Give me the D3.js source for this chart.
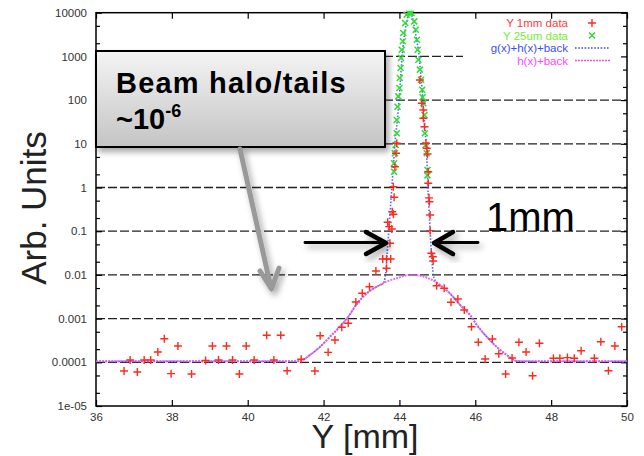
<!DOCTYPE html>
<html><head><meta charset="utf-8">
<script src="https://cdn.jsdelivr.net/npm/d3@7"></script>
<style>
html,body{margin:0;padding:0;background:#fff;}
svg{display:block;font-family:"Liberation Sans",Arial,sans-serif;}
</style></head>
<body>
<svg id="chart" width="644" height="456"></svg>
<script>
// ---------- data ----------
const xTicks = [36,38,40,42,44,46,48,50];
const yTicks = [1e-5,1e-4,1e-3,1e-2,1e-1,1,10,100,1000,10000];
const yTickLabels = ["1e-05","0.0001","0.001","0.01","0.1","1","10","100","1000","10000"];
const gridValues = [1e-4,1e-3,1e-2,1e-1,1,10,100,1000];
const legendLabels = ["Y 1mm data","Y 25um data","g(x)+h(x)+back","h(x)+back"];

const y1mmData = [
[36.74,6.3e-5],[36.90,1.13e-4],[37.09,6.0e-5],[37.27,1.13e-4],[37.44,1.13e-4],[37.63,1.72e-4],[37.80,3.47e-4],[37.98,5.5e-5],[38.16,2.36e-4],[38.52,5.4e-5],[38.89,1.1e-4],[39.07,2.36e-4],[39.23,1.13e-4],[39.44,2.36e-4],[39.60,1.13e-4],[39.78,5.4e-5],[39.96,2.36e-4],[40.17,1.13e-4],[40.50,4.15e-4],[40.69,1.13e-4],[40.87,4.15e-4],[41.04,6.4e-5],[41.41,1.17e-4],[41.77,6.3e-5],[41.91,4.06e-4],[42.12,1.69e-4],[42.30,3.24e-4],[42.48,6.32e-4],[42.65,7.8e-4],[42.85,2.40e-3],[43.02,3.79e-3],[43.21,5.37e-3],[43.38,1.23e-2],[43.56,2.31e-2],[43.66,2.31e-2],[43.77,2.31e-2],[43.66,1.42e-2],[43.75,0.0528],[43.73,0.127],[43.80,0.112],[43.69,0.160],[43.81,0.279],[43.84,0.244],[43.86,0.597],[43.84,1.04],[43.88,2.99],[43.91,6.06],[43.93,10.3],
[44.54,288],[44.59,84.5],[44.63,59.3],[44.63,38.3],[44.66,24.6],[44.70,10.3],[44.72,7.9],[44.74,5.84],[44.76,2.30],[44.76,1.25],[44.78,0.58],[44.79,0.473],[44.81,0.235],[44.81,0.103],[44.84,0.0312],[44.88,0.0261],[44.89,0.0208],[44.98,5.66e-3],[45.18,4.93e-3],[45.36,2.36e-3],[45.54,2.81e-3],[45.71,1.57e-3],[45.90,6.53e-4],[46.08,2.88e-4],[46.26,1.19e-4],[46.45,3.41e-4],[46.62,1.57e-4],[46.80,5.4e-5],[46.97,1.25e-4],[47.15,2.88e-4],[47.34,1.72e-4],[47.51,4.93e-5],[47.69,2.72e-4],[48.06,1.24e-4],[48.23,1.24e-4],[48.43,1.28e-4],[48.61,1.24e-4],[48.79,1.84e-4],[49.14,1.24e-4],[49.31,2.96e-4],[49.51,6.4e-5],[49.68,2.36e-4],[49.86,6.53e-4]
];

const y25umData = [
[44.24,10000],[44.28,10000],[44.19,9000],[44.15,5800],[44.10,3430],[44.09,2220],[44.06,1420],[44.04,918],[44.03,543],[44.01,321],[44.00,189],[43.97,122],[43.95,70.6],[43.93,35.1],[43.93,17.4],[43.90,9.4],[43.88,6.07],[43.86,3.58],[43.86,2.30],
[44.32,9840],[44.39,6350],[44.43,4080],[44.46,2410],[44.48,1420],[44.50,840],[44.54,497],[44.57,293],[44.60,173],[44.61,116],[44.63,84.5],[44.66,45.6],[44.67,17.4],[44.69,9.4],[44.72,6.07],[44.74,2.51],[44.74,1.89]
];

const fitTotal = [
[36,1.05e-4],[41.2,1.05e-4],[41.38,1.07e-4],[41.64,1.47e-4],[41.91,2.27e-4],[42.17,3.86e-4],[42.43,6.53e-4],[42.65,1.10e-3],[42.87,2.12e-3],[43.14,3.79e-3],[43.40,5.37e-3],[43.58,6.6e-3],[43.62,8.5e-3],[43.65,0.014],[43.68,0.035],[43.72,0.1],[43.76,0.32],[43.80,1],[43.84,3.2],[43.88,10],[43.94,32],[43.99,100],[44.03,320],[44.07,1000],[44.12,2500],[44.18,5500],[44.23,8500],[44.28,10000],[44.33,8500],[44.38,5500],[44.45,2500],[44.52,1000],[44.57,320],[44.62,100],[44.66,32],[44.70,10],[44.73,3.2],[44.75,1],[44.78,0.32],[44.81,0.1],[44.84,0.035],[44.87,0.016],[44.90,0.0095],[44.95,7.3e-3],[45.07,5.87e-3],[45.33,3.79e-3],[45.60,2.05e-3],[45.86,1.21e-3],[46.04,7.14e-4],[46.30,3.86e-4],[46.56,2.27e-4],[46.83,1.47e-4],[47.09,1.07e-4],[47.3,1.05e-4],[50,1.05e-4]
];

const fitHalo = [
[36,1.05e-4],[41.2,1.05e-4],[41.38,1.07e-4],[41.64,1.47e-4],[41.91,2.27e-4],[42.17,3.86e-4],[42.43,6.53e-4],[42.65,1.10e-3],[42.87,2.12e-3],[43.14,3.79e-3],[43.40,5.37e-3],[43.66,6.99e-3],[43.93,8.36e-3],[44.28,1.0e-2],[44.54,9.6e-3],[44.81,8.05e-3],[45.07,5.87e-3],[45.33,3.79e-3],[45.60,2.05e-3],[45.86,1.21e-3],[46.04,7.14e-4],[46.30,3.86e-4],[46.56,2.27e-4],[46.83,1.47e-4],[47.09,1.07e-4],[47.3,1.05e-4],[50,1.05e-4]
];

// ---------- layout ----------
const L = 96, R = 627, T = 12.7, B = 406;
const svg = d3.select("#chart");
const x = d3.scaleLinear().domain([36,50]).range([L,R]);
const y = d3.scaleLog().domain([1e-5,1e4]).range([B,T]);

const COL = {red:"#ff2a1a", green:"#33dd33", blue:"#3a4cff", mag:"#e455ee"};

const defs = svg.append("defs");
defs.append("clipPath").attr("id","clip").append("rect")
  .attr("x",L).attr("y",T-2).attr("width",R-L).attr("height",B-T+2);
const grad = defs.append("linearGradient").attr("id","boxg").attr("x1",0).attr("y1",0).attr("x2",0).attr("y2",1);
grad.append("stop").attr("offset","0%").attr("stop-color","#f4f4f4");
grad.append("stop").attr("offset","100%").attr("stop-color","#c4c4c4");
const sh = defs.append("filter").attr("id","shadow").attr("x","-20%").attr("y","-20%").attr("width","150%").attr("height","160%");
sh.append("feDropShadow").attr("dx",3).attr("dy",4).attr("stdDeviation",3).attr("flood-color","#000").attr("flood-opacity",0.35);
const glow = defs.append("filter").attr("id","glow");
glow.append("feGaussianBlur").attr("stdDeviation",0.5);

// grid
svg.append("g").selectAll("line").data(gridValues).join("line")
  .attr("x1",L).attr("x2",R).attr("y1",d=>y(d)).attr("y2",d=>y(d))
  .attr("stroke","#222").attr("stroke-width",1.3).attr("stroke-dasharray","9,3");

// legend background (gnuplot key clears grid)
svg.append("rect").attr("x",463).attr("y",T+1).attr("width",R-463-1).attr("height",55).attr("fill","#fff");

// axes
function styleAxis(g){
  g.select(".domain").remove();
  g.selectAll(".tick line").attr("stroke","#000").attr("stroke-width",1.2);
  g.selectAll(".tick text").attr("fill","#333").style("font-size","11.5px")
    .style("font-family","'Liberation Sans',Arial,sans-serif");
}
const minorTicks = [];
for (let e=-5; e<4; e++){ minorTicks.push(2*Math.pow(10,e)); minorTicks.push(5*Math.pow(10,e)); }

svg.append("g").attr("transform",`translate(0,${B})`)
  .call(d3.axisBottom(x).tickValues(xTicks).tickSize(-6).tickPadding(7).tickFormat(d3.format("d")))
  .call(styleAxis);
svg.append("g").attr("transform",`translate(0,${T})`)
  .call(d3.axisTop(x).tickValues(xTicks).tickSize(-6).tickFormat(""))
  .call(styleAxis);
svg.append("g").attr("transform",`translate(${L},0)`)
  .call(d3.axisLeft(y).tickValues(yTicks).tickSize(-6).tickPadding(9).tickFormat((d,i)=>yTickLabels[i]))
  .call(styleAxis);
svg.append("g").attr("transform",`translate(${L},0)`)
  .call(d3.axisLeft(y).tickValues(minorTicks).tickSize(-4).tickFormat(""))
  .call(styleAxis);
svg.append("g").attr("transform",`translate(${R},0)`)
  .call(d3.axisRight(y).tickValues(yTicks).tickSize(-6).tickFormat(""))
  .call(styleAxis);
svg.append("g").attr("transform",`translate(${R},0)`)
  .call(d3.axisRight(y).tickValues(minorTicks).tickSize(-4).tickFormat(""))
  .call(styleAxis);

// frame
svg.append("rect").attr("x",L).attr("y",T).attr("width",R-L).attr("height",B-T)
  .attr("fill","none").attr("stroke","#000").attr("stroke-width",1.5);

// plot layer
const plot = svg.append("g").attr("clip-path","url(#clip)");
const line = d3.line().x(d=>x(d[0])).y(d=>y(d[1])).curve(d3.curveMonotoneX);

plot.append("path").datum(fitTotal).attr("d",line).attr("fill","none")
  .attr("stroke",COL.blue).attr("stroke-width",1.6).attr("stroke-dasharray","1.6,1.6").attr("opacity",0.85);

// green x
plot.append("g").attr("filter","url(#glow)").selectAll("path").data(y25umData).join("path")
  .attr("d",d=>{const cx=x(d[0]),cy=y(d[1]),s=3;return `M${cx-s},${cy-s}L${cx+s},${cy+s}M${cx-s},${cy+s}L${cx+s},${cy-s}`;})
  .attr("stroke",COL.green).attr("stroke-width",1.6).attr("fill","none");

plot.append("path").datum(fitHalo).attr("d",line).attr("fill","none")
  .attr("stroke",COL.mag).attr("stroke-width",2).attr("stroke-dasharray","2,1").attr("opacity",0.85);

// red +
plot.append("g").selectAll("path").data(y1mmData).join("path")
  .attr("d",d=>{const cx=x(d[0]),cy=y(d[1]),s=4;return `M${cx-s},${cy}L${cx+s},${cy}M${cx},${cy-s}L${cx},${cy+s}`;})
  .attr("stroke",COL.red).attr("stroke-width",1.4).attr("fill","none");

// legend
const legColors = ["#ff3a3a","#77ee33","#3a4cff","#ff44ff"];
const legY = [23,35.5,48,60.5];
const leg = svg.append("g");
leg.selectAll("text").data(legendLabels).join("text")
  .attr("x",568).attr("y",(d,i)=>legY[i]+4).attr("text-anchor","end")
  .attr("fill",(d,i)=>legColors[i]).style("font-size","11.5px").text(d=>d);
leg.append("path").attr("d",`M588,${legY[0]}L596,${legY[0]}M592,${legY[0]-4}L592,${legY[0]+4}`)
  .attr("stroke",COL.red).attr("stroke-width",1.4);
leg.append("path").attr("filter","url(#glow)").attr("d",`M589,${legY[1]-3}L595,${legY[1]+3}M589,${legY[1]+3}L595,${legY[1]-3}`)
  .attr("stroke",COL.green).attr("stroke-width",1.6);
leg.append("line").attr("x1",575).attr("x2",610).attr("y1",legY[2]).attr("y2",legY[2])
  .attr("stroke",COL.blue).attr("stroke-width",1.6).attr("stroke-dasharray","1.6,1.6");
leg.append("line").attr("x1",575).attr("x2",610).attr("y1",legY[3]).attr("y2",legY[3])
  .attr("stroke",COL.mag).attr("stroke-width",1.6).attr("stroke-dasharray","2,1");

// axis titles
svg.append("text").attr("transform","translate(46,208) rotate(-90)").attr("text-anchor","middle")
  .attr("fill","#222").style("font-size","35px").text("Arb. Units");
svg.append("text").attr("x",365).attr("y",448).attr("text-anchor","middle")
  .attr("fill","#222").style("font-size","34px").text("Y [mm]");

// annotation: box
const ann = svg.append("g");
ann.append("rect").attr("x",96).attr("y",51).attr("width",289).attr("height",96)
  .attr("fill","url(#boxg)").attr("stroke","#000").attr("stroke-width",2).attr("filter","url(#shadow)");
ann.append("text").attr("x",116).attr("y",93).style("font-size","29px").style("font-weight","bold")
  .style("letter-spacing","1.2px").attr("fill","#000").text("Beam halo/tails");
const t2 = ann.append("text").attr("x",116).attr("y",129).style("font-size","29px").style("font-weight","bold").attr("fill","#000");
t2.append("tspan").text("~10");
t2.append("tspan").attr("dy",-12).style("font-size","18px").text("-6");

// gray arrow
const ga = svg.append("g").attr("filter","url(#shadow)").attr("stroke","#999").attr("stroke-width",5)
  .attr("fill","none").attr("stroke-linecap","round").attr("stroke-linejoin","round");
ga.append("path").attr("d","M240,149L271,288");
ga.append("path").attr("d","M260,271L271.5,289L279,268");

// black arrows
const ba = svg.append("g").attr("filter","url(#shadow)").attr("stroke","#000").attr("fill","none")
  .attr("stroke-linecap","round").attr("stroke-linejoin","round");
ba.append("path").attr("d","M305,242.5L384,242.5").attr("stroke-width",2.8);
ba.append("path").attr("d","M366,232L386,243L366,254").attr("stroke-width",4.5);
ba.append("path").attr("d","M436,242.5L478,242.5").attr("stroke-width",2.8);
ba.append("path").attr("d","M453,232L434,243L453,254").attr("stroke-width",4.5);

svg.append("text").attr("x",486).attr("y",231).style("font-size","40px").attr("fill","#000").text("1mm");
</script>
</body></html>
